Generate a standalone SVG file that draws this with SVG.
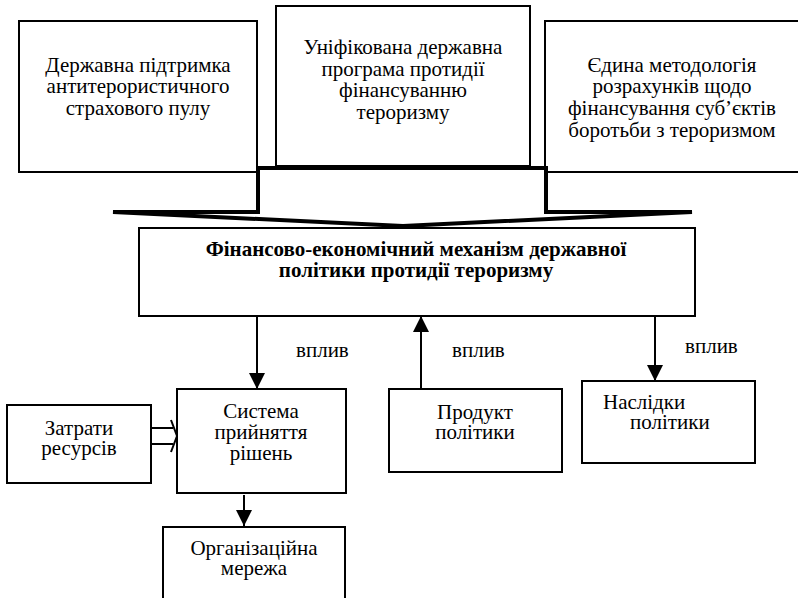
<svg xmlns="http://www.w3.org/2000/svg" width="798" height="598" viewBox="0 0 798 598" font-family="Liberation Serif" font-size="21">
<style>
.box{fill:#fff;stroke:#000;stroke-width:2}
.ln{stroke:#000;stroke-width:2;fill:none}
.c{text-anchor:middle}
</style>
<defs>
<marker id="ah" viewBox="0 0 16 16" refX="16" refY="8" markerWidth="16" markerHeight="16" markerUnits="userSpaceOnUse" orient="auto">
<path d="M0,0 L16,8 L0,16 Z" fill="#000"/>
</marker>
</defs>
<rect width="798" height="598" fill="#fff"/>

<g id="node-pool">
<rect class="box" x="19" y="21" width="238" height="151"/>
<text class="c"><tspan x="138" y="72">Державна підтримка</tspan><tspan x="138" y="93">антитерористичного</tspan><tspan x="138" y="115">страхового пулу</tspan></text>
</g>

<g id="node-program">
<rect class="box" x="276" y="6" width="254" height="160"/>
<text class="c"><tspan x="403" y="54">Уніфікована державна</tspan><tspan x="403" y="76">програма протидії</tspan><tspan x="403" y="97">фінансуванню</tspan><tspan x="403" y="119">тероризму</tspan></text>
</g>

<g id="node-method">
<rect class="box" x="545" y="21" width="260" height="151"/>
<text class="c"><tspan x="672" y="72">Єдина методологія</tspan><tspan x="672" y="93">розрахунків щодо</tspan><tspan x="672" y="115">фінансування суб’єктів</tspan><tspan x="672" y="137">боротьби з тероризмом</tspan></text>
</g>

<g id="big-arrow">
<polygon points="258,168 546,168 546,212 692,212 403,226 113,212 258,212" fill="#fff" stroke="#000" stroke-width="4" stroke-linejoin="miter" stroke-miterlimit="4"/>
</g>

<g id="node-mechanism">
<rect class="box" x="139" y="228" width="556" height="88"/>
<text class="c" font-weight="bold"><tspan x="416" y="256">Фінансово-економічний механізм державної</tspan><tspan x="416" y="277">політики протидії тероризму</tspan></text>
</g>

<g id="node-costs">
<rect class="box" x="7" y="405" width="144" height="78"/>
<text class="c"><tspan x="79" y="435">Затрати</tspan><tspan x="79" y="455">ресурсів</tspan></text>
</g>

<g id="node-decision">
<rect class="box" x="177" y="389" width="169" height="104"/>
<text class="c"><tspan x="261" y="418">Система</tspan><tspan x="261" y="439">прийняття</tspan><tspan x="261" y="460">рішень</tspan></text>
</g>

<g id="node-network">
<rect class="box" x="163" y="527" width="182" height="80"/>
<text class="c"><tspan x="254" y="555">Організаційна</tspan><tspan x="254" y="575">мережа</tspan></text>
</g>

<g id="node-product">
<rect class="box" x="389" y="389" width="173" height="83"/>
<text class="c"><tspan x="475" y="419">Продукт</tspan><tspan x="475" y="439">політики</tspan></text>
</g>

<g id="node-consequences">
<rect class="box" x="582" y="381" width="173" height="82"/>
<text><tspan x="603" y="409">Наслідки</tspan><tspan x="630" y="429">політики</tspan></text>
</g>

<g id="connectors">
<line class="ln" x1="257" y1="316" x2="257" y2="389" marker-end="url(#ah)"/>
<line class="ln" x1="421" y1="389" x2="421" y2="316" marker-end="url(#ah)"/>
<line class="ln" x1="655" y1="316" x2="655" y2="381" marker-end="url(#ah)"/>
<line class="ln" x1="244" y1="495" x2="244" y2="526" marker-end="url(#ah)"/>
<path class="ln" d="M151,428 H173 M151,444 H173"/>
<path class="ln" d="M171,420 L177,436 L171,452" stroke-width="2.5"/>
<text x="296" y="357">вплив</text>
<text x="452" y="357">вплив</text>
<text x="685" y="353">вплив</text>
</g>
</svg>
